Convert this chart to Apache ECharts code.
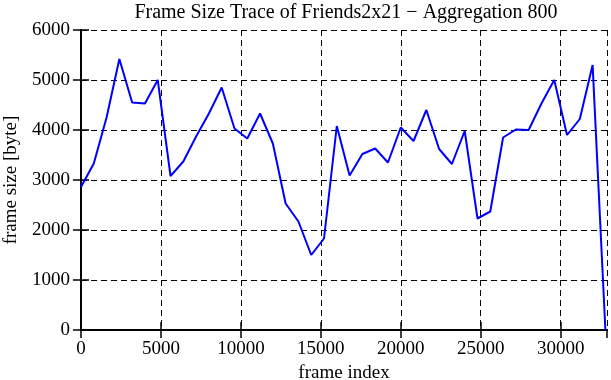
<!DOCTYPE html>
<html>
<head>
<meta charset="utf-8">
<script src="https://cdn.jsdelivr.net/npm/echarts@6/dist/echarts.min.js"></script>
<style>
html,body{margin:0;padding:0;background:#fff;}
#c{width:611px;height:380px;}
</style>
</head>
<body>
<div id="c"></div>
<script>
const titleText = 'Frame Size Trace of Friends2x21 \u2212 Aggregation 800';
const xName = 'frame index';
const yName = 'frame size [byte]';
const frameIndex = [0,800,1600,2400,3200,4000,4800,5600,6400,7200,8000,8800,9600,10400,11200,12000,12800,13600,14400,15200,16000,16800,17600,18400,19200,20000,20800,21600,22400,23200,24000,24800,25600,26400,27200,28000,28800,29600,30400,31200,32000,32800];
const frameSize = [2860,3330,4250,5420,4550,4530,5000,3080,3370,3870,4330,4850,4030,3830,4330,3730,2530,2170,1500,1830,4080,3090,3520,3630,3350,4050,3780,4400,3620,3320,3980,2230,2370,3850,4010,4000,4530,5000,3900,4220,5300,0];
const xMin = 0, xMax = 32900, xStep = 5000;
const yMin = 0, yMax = 6000, yStep = 1000;

const font = 'Liberation Serif';
const fs = 19;
const chart = echarts.init(document.getElementById('c'), null, {renderer:'canvas'});
const axisLine = {show:true, lineStyle:{color:'#000', width:2}};
const tick = {show:true, inside:true, length:8, lineStyle:{color:'#000', width:1.5}};
const split = {show:true, lineStyle:{color:'#000', width:1, type:[6,4]}};
const plain = v => String(v);
chart.setOption({
  animation:false,
  backgroundColor:'#fff',
  title:{text:titleText, left:341, top:-2, textAlign:'center',
    textStyle:{fontFamily:font, fontSize:20, fontWeight:'normal', color:'#000'}},
  grid:{left:81, right:4, top:30, bottom:50, containLabel:false, outerBoundsMode:'none'},
  xAxis:[{
    type:'value', min:xMin, max:xMax, interval:xStep,
    name:xName, nameLocation:'middle', nameGap:33,
    nameTextStyle:{fontFamily:font, fontSize:fs, color:'#000'},
    axisLine:axisLine, axisTick:tick, splitLine:split,
    axisLabel:{fontFamily:font, fontSize:fs, color:'#000', margin:10, showMaxLabel:false, formatter:plain}
  },{
    type:'value', position:'top', min:xMin, max:xMax, interval:xStep,
    axisLine:axisLine, axisTick:tick, splitLine:{show:false}, axisLabel:{show:false}
  }],
  yAxis:[{
    type:'value', min:yMin, max:yMax, interval:yStep,
    name:yName, nameLocation:'middle', nameGap:60, nameRotate:90,
    nameTextStyle:{fontFamily:font, fontSize:fs, color:'#000'},
    axisLine:axisLine, axisTick:tick, splitLine:split,
    axisLabel:{fontFamily:font, fontSize:fs, color:'#000', margin:11, formatter:plain}
  },{
    type:'value', position:'right', min:yMin, max:yMax, interval:yStep,
    axisLine:axisLine, axisTick:tick, splitLine:{show:false}, axisLabel:{show:false}
  }],
  series:[{
    type:'line', data:frameIndex.map((x,i)=>[x,frameSize[i]]),
    showSymbol:false, symbol:'none',
    lineStyle:{color:'#0000ff', width:2}, itemStyle:{color:'#0000ff'}
  }]
});
</script>
</body>
</html>
